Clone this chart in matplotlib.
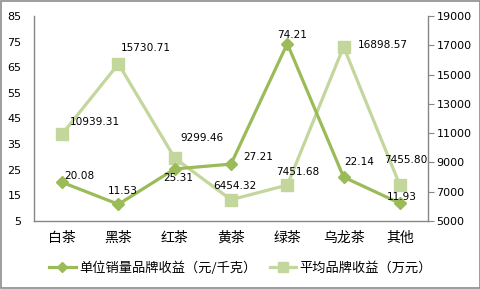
import matplotlib
matplotlib.use("Agg")
import matplotlib.pyplot as plt
from matplotlib.patches import Rectangle

plt.rcParams['font.family'] = ['Noto Sans CJK SC', 'DejaVu Sans']

categories = ['白茶', '黑茶', '红茶', '黄茶', '绿茶', '乌龙茶', '其他']
unit_income = [20.08, 11.53, 25.31, 27.21, 74.21, 22.14, 11.93]
avg_income = [10939.31, 15730.71, 9299.46, 6454.32, 7451.68, 16898.57, 7455.80]
left_ticks = [5, 15, 25, 35, 45, 55, 65, 75, 85]
right_ticks = [5000, 7000, 9000, 11000, 13000, 15000, 17000, 19000]
name_unit = '单位销量品牌收益（元/千克）'
name_avg = '平均品牌收益（万元）'

# label centre offsets from each point, in pixels (dx, dy)
unit_offsets = [(17, 6), (4, 13), (4, -9), (27, 7), (5, 9), (16, 15), (2, 6)]
avg_offsets = [(33, 12), (27, 16), (27, 20), (4, 14), (11, 13), (39, 2), (6, 25)]

c_unit = '#9BBB59'
c_avg = '#C3D69B'
c_axis = '#868686'

fig = plt.figure(figsize=(4.81, 2.89), dpi=100)
ax = fig.add_axes([34 / 481, 1 - 221 / 289, (428 - 34) / 481, (221 - 16) / 289])
ax2 = ax.twinx()

x = list(range(len(categories)))
ax.plot(x, unit_income, color=c_unit, lw=2.3, marker='D', ms=6,
        label=name_unit, zorder=4)
ax2.plot(x, avg_income, color=c_avg, lw=2.3, marker='s', ms=8.5,
         label=name_avg, zorder=3)

ax.set_zorder(ax2.get_zorder() + 1)
ax.patch.set_visible(False)

ax.set_xlim(-0.5, len(categories) - 0.5)
ax.set_ylim(5, 85)
ax2.set_ylim(5000, 19000)
ax.set_yticks(left_ticks)
ax2.set_yticks(right_ticks)
ax.set_xticks(x)
ax.set_xticklabels(categories, fontsize=10)

for a in (ax, ax2):
    for s in a.spines.values():
        s.set_visible(False)
ax.spines['left'].set_visible(True)
ax.spines['bottom'].set_visible(True)
ax2.spines['right'].set_visible(True)
for s in (ax.spines['left'], ax.spines['bottom'], ax2.spines['right']):
    s.set_color(c_axis)
    s.set_linewidth(1)

ax.tick_params(axis='y', length=0, labelsize=8, pad=9)
ax.tick_params(axis='x', length=0, pad=7)
ax2.tick_params(axis='y', length=4, color=c_axis, labelsize=8, pad=2,
                direction='out')
for t in ax.get_yticklabels() + ax2.get_yticklabels():
    t.set_fontfamily('DejaVu Sans')

for xi, v, off in zip(x, unit_income, unit_offsets):
    ax.annotate(f'{v:.2f}', (xi, v), xytext=off, textcoords='offset pixels',
                ha='center', va='center', fontsize=7.6, family='DejaVu Sans',
                zorder=6)
for xi, v, off in zip(x, avg_income, avg_offsets):
    ax2.annotate(f'{v:.2f}', (xi, v), xytext=off, textcoords='offset pixels',
                 ha='center', va='center', fontsize=7.6, family='DejaVu Sans',
                 zorder=6)

h1, l1 = ax.get_legend_handles_labels()
h2, l2 = ax2.get_legend_handles_labels()
fig.legend(h1 + h2, l1 + l2, loc='center', bbox_to_anchor=(0.5, 1 - 268 / 289),
           ncol=2, frameon=False, fontsize=9.5, handlelength=2.0,
           columnspacing=1.0, handletextpad=0.25, markerscale=0.85)

fig.patches.append(Rectangle((0.002, 0.003), 0.995, 0.993,
                             transform=fig.transFigure, fill=False,
                             edgecolor='#8c8c8c', lw=1.2))

fig.savefig('out.png', dpi=100)
